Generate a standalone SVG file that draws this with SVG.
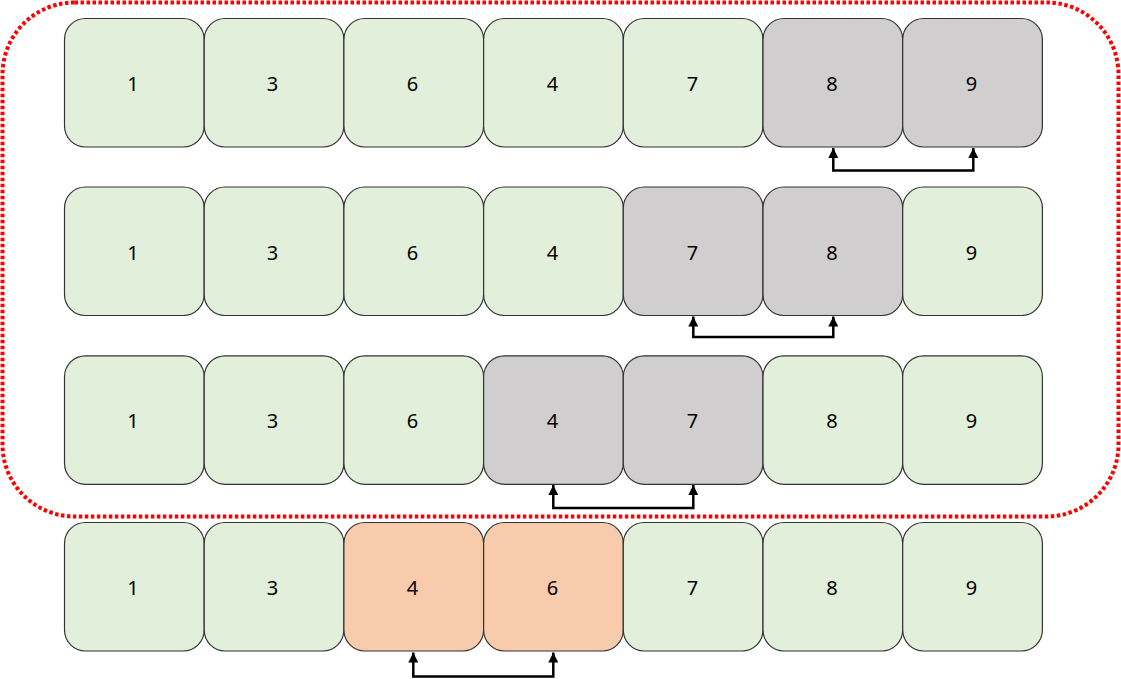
<svg xmlns="http://www.w3.org/2000/svg" width="1121" height="679" viewBox="0 0 1121 679">
<style>
.b{stroke:#333;stroke-width:1.2}
.g{fill:#e2efda}
.s{fill:#d0cece}
.o{fill:#f8cbad}
text{font-family:"Noto Sans","Open Sans",sans-serif;font-size:20px;fill:#000;text-anchor:middle;dominant-baseline:central}
.c{fill:none;stroke:#000;stroke-width:2.5;marker-start:url(#a);marker-end:url(#a)}
</style>
<defs>
<marker id="a" viewBox="0 0 10 10" refX="10" refY="5" markerWidth="4" markerHeight="4" orient="auto-start-reverse" markerUnits="strokeWidth">
<path d="M0,0 L10,5 L0,10 z" fill="#000"/>
</marker>
</defs>
<rect x="2.5" y="2.5" width="1116" height="514" rx="72" fill="none" stroke="#ff0000" stroke-width="4" stroke-dasharray="3.5 2.5"/>
<g id="row1">
<g id="r1n1"><rect class="b g" x="64.5" y="18.5" width="139.7" height="128.5" rx="21"/><text x="133" y="83">1</text></g>
<g id="r1n2"><rect class="b g" x="204.2" y="18.5" width="139.7" height="128.5" rx="21"/><text x="272.5" y="83">3</text></g>
<g id="r1n3"><rect class="b g" x="343.9" y="18.5" width="139.7" height="128.5" rx="21"/><text x="412.5" y="83">6</text></g>
<g id="r1n4"><rect class="b g" x="483.6" y="18.5" width="139.7" height="128.5" rx="21"/><text x="552.5" y="83">4</text></g>
<g id="r1n5"><rect class="b g" x="623.3" y="18.5" width="139.7" height="128.5" rx="21"/><text x="692.5" y="83">7</text></g>
<g id="r1n6"><rect class="b s" x="763" y="18.5" width="139.7" height="128.5" rx="21"/><text x="832" y="83">8</text></g>
<g id="r1n7"><rect class="b s" x="902.7" y="18.5" width="139.7" height="128.5" rx="21"/><text x="971.5" y="83">9</text></g>
</g>
<g id="row2">
<g id="r2n1"><rect class="b g" x="64.5" y="187" width="139.7" height="128.5" rx="21"/><text x="133" y="252">1</text></g>
<g id="r2n2"><rect class="b g" x="204.2" y="187" width="139.7" height="128.5" rx="21"/><text x="272.5" y="252">3</text></g>
<g id="r2n3"><rect class="b g" x="343.9" y="187" width="139.7" height="128.5" rx="21"/><text x="412.5" y="252">6</text></g>
<g id="r2n4"><rect class="b g" x="483.6" y="187" width="139.7" height="128.5" rx="21"/><text x="552.5" y="252">4</text></g>
<g id="r2n5"><rect class="b s" x="623.3" y="187" width="139.7" height="128.5" rx="21"/><text x="692.5" y="252">7</text></g>
<g id="r2n6"><rect class="b s" x="763" y="187" width="139.7" height="128.5" rx="21"/><text x="832" y="252">8</text></g>
<g id="r2n7"><rect class="b g" x="902.7" y="187" width="139.7" height="128.5" rx="21"/><text x="971.5" y="252">9</text></g>
</g>
<g id="row3">
<g id="r3n1"><rect class="b g" x="64.5" y="355.8" width="139.7" height="128.5" rx="21"/><text x="133" y="420">1</text></g>
<g id="r3n2"><rect class="b g" x="204.2" y="355.8" width="139.7" height="128.5" rx="21"/><text x="272.5" y="420">3</text></g>
<g id="r3n3"><rect class="b g" x="343.9" y="355.8" width="139.7" height="128.5" rx="21"/><text x="412.5" y="420">6</text></g>
<g id="r3n4"><rect class="b s" x="483.6" y="355.8" width="139.7" height="128.5" rx="21"/><text x="552.5" y="420">4</text></g>
<g id="r3n5"><rect class="b s" x="623.3" y="355.8" width="139.7" height="128.5" rx="21"/><text x="692.5" y="420">7</text></g>
<g id="r3n6"><rect class="b g" x="763" y="355.8" width="139.7" height="128.5" rx="21"/><text x="832" y="420">8</text></g>
<g id="r3n7"><rect class="b g" x="902.7" y="355.8" width="139.7" height="128.5" rx="21"/><text x="971.5" y="420">9</text></g>
</g>
<g id="row4">
<g id="r4n1"><rect class="b g" x="64.5" y="522.5" width="139.7" height="128.5" rx="21"/><text x="133" y="587">1</text></g>
<g id="r4n2"><rect class="b g" x="204.2" y="522.5" width="139.7" height="128.5" rx="21"/><text x="272.5" y="587">3</text></g>
<g id="r4n3"><rect class="b o" x="343.9" y="522.5" width="139.7" height="128.5" rx="21"/><text x="412.5" y="587">4</text></g>
<g id="r4n4"><rect class="b o" x="483.6" y="522.5" width="139.7" height="128.5" rx="21"/><text x="552.5" y="587">6</text></g>
<g id="r4n5"><rect class="b g" x="623.3" y="522.5" width="139.7" height="128.5" rx="21"/><text x="692.5" y="587">7</text></g>
<g id="r4n6"><rect class="b g" x="763" y="522.5" width="139.7" height="128.5" rx="21"/><text x="832" y="587">8</text></g>
<g id="r4n7"><rect class="b g" x="902.7" y="522.5" width="139.7" height="128.5" rx="21"/><text x="971.5" y="587">9</text></g>
</g>
<g id="connectors">
<path class="c" d="M833.3,148 V170.5 H973.3 V148"/>
<path class="c" d="M693.3,316.5 V337 H833.3 V316.5"/>
<path class="c" d="M553.3,485 V508 H693.3 V485"/>
<path class="c" d="M413.3,652.5 V676.5 H553.3 V652.5"/>
</g>
</svg>
